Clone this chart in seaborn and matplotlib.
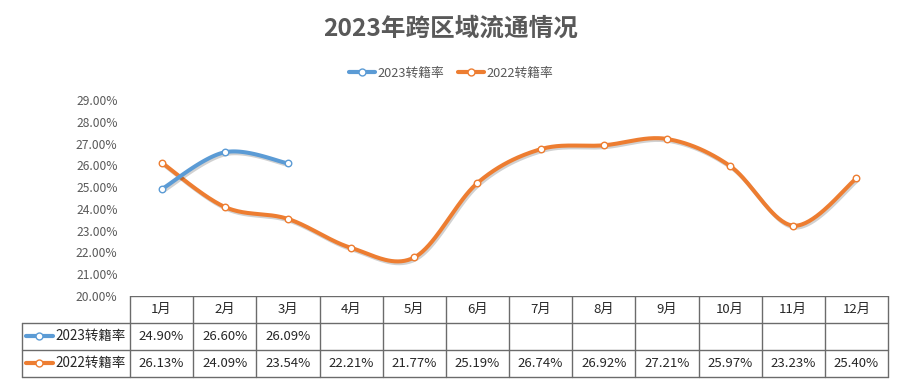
import numpy as np
import pandas as pd
import matplotlib
matplotlib.use("Agg")
import matplotlib.pyplot as plt
import matplotlib.patheffects as pe
from matplotlib.lines import Line2D
import seaborn as sns

months = ["1月", "2月", "3月", "4月", "5月", "6月", "7月", "8月", "9月", "10月", "11月", "12月"]
rate_2023 = [24.90, 26.60, 26.09]
rate_2022 = [26.13, 24.09, 23.54, 22.21, 21.77, 25.19, 26.74, 26.92, 27.21, 25.97, 23.23, 25.40]
series_names = ["2023转籍率", "2022转籍率"]
title = "2023年跨区域流通情况"
yticks = [20, 21, 22, 23, 24, 25, 26, 27, 28, 29]

BLUE = "#5B9BD5"
ORANGE = "#ED7D31"
GRAY = "#595959"

sns.set_theme(style="white")
plt.rcParams["font.family"] = ["Noto Sans CJK SC", "DejaVu Sans"]

W, H = 902, 385
fig = plt.figure(figsize=(W / 100, H / 100), dpi=100)

def px_axes(x0, y0, x1, y1):
    return fig.add_axes([x0 / W, 1 - y1 / H, (x1 - x0) / W, (y1 - y0) / H])

# plot area
ax = px_axes(130, 100, 888, 296)

def smooth(xs, ys, n=40):
    xs = np.asarray(xs, float); ys = np.asarray(ys, float)
    P = np.column_stack([xs, ys])
    out = []
    for i in range(len(P) - 1):
        p0 = P[i - 1] if i > 0 else P[i]
        p1 = P[i]; p2 = P[i + 1]
        p3 = P[i + 2] if i + 2 < len(P) else P[i + 1]
        c1 = p1 + (p2 - p0) / 6
        c2 = p2 - (p3 - p1) / 6
        t = np.linspace(0, 1, n)[:, None]
        seg = (1 - t) ** 3 * p1 + 3 * (1 - t) ** 2 * t * c1 + 3 * (1 - t) * t ** 2 * c2 + t ** 3 * p2
        out.append(seg if i == 0 else seg[1:])
    return np.vstack(out)

shadow = [pe.SimpleLineShadow(offset=(1.0, -1.3), alpha=0.18, shadow_color="black"), pe.Normal()]

for vals, color, name in [(rate_2022, ORANGE, series_names[1]), (rate_2023, BLUE, series_names[0])]:
    xs = np.arange(len(vals))
    curve = smooth(xs, vals)
    df = pd.DataFrame({"x": curve[:, 0], "y": curve[:, 1]})
    sns.lineplot(data=df, x="x", y="y", ax=ax, color=color, linewidth=2.9, sort=False,
                 estimator=None, path_effects=shadow, legend=False)
    dfp = pd.DataFrame({"x": xs, "y": vals})
    sns.scatterplot(data=dfp, x="x", y="y", ax=ax, s=22, color="white", edgecolor=color,
                    linewidth=1.0, zorder=5, legend=False)

ax.set_xlim(-0.5, 11.5)
ax.set_ylim(20, 29)
ax.set_yticks(yticks)
ax.set_yticklabels([f"{v:.2f}%" for v in yticks], color=GRAY, fontsize=8.7)
ax.tick_params(axis="y", length=0, pad=9)
ax.set_xticks([])
ax.set_xlabel(""); ax.set_ylabel("")
for s in ax.spines.values():
    s.set_visible(False)
ax.patch.set_alpha(0)

fig.text(0.5, 1 - 29 / H, title, ha="center", va="center", fontsize=17.7, fontweight="bold", color=GRAY)

handles = [Line2D([], [], color=BLUE, lw=3, marker="o", markersize=5, markerfacecolor="white",
                  markeredgecolor=BLUE, markeredgewidth=1.0),
           Line2D([], [], color=ORANGE, lw=3, marker="o", markersize=5, markerfacecolor="white",
                  markeredgecolor=ORANGE, markeredgewidth=1.0)]
fig.legend(handles, series_names, loc="center", bbox_to_anchor=(0.5, 1 - 73 / H), ncol=2,
           frameon=False, fontsize=9.2, handlelength=2.0, columnspacing=1.1, handletextpad=0.2,
           labelcolor=GRAY)

# data table
tab = px_axes(0, 296, W, 385)
tab.set_xlim(0, W); tab.set_ylim(385, 296)
tab.axis("off")
LC = "#6b6b6b"
x0, x1 = 130, 888
cw = (x1 - x0) / 12
rows_y = [296, 322.5, 349.5, 377]
lw = 1.0
tab.plot([x0, x1], [296, 296], color=LC, lw=lw)
for y in rows_y[1:]:
    tab.plot([22, x1], [y, y], color=LC, lw=lw)
tab.plot([22, 22], [rows_y[1], rows_y[3]], color=LC, lw=lw)
for i in range(13):
    xx = x0 + i * cw
    tab.plot([xx, xx], [296, 377], color=LC, lw=lw)

TC = "#262626"
for i, m in enumerate(months):
    tab.text(x0 + (i + 0.5) * cw, (rows_y[0] + rows_y[1]) / 2, m, ha="center", va="center",
             fontsize=9.5, color=TC)
for r, (vals, color, name) in enumerate([(rate_2023, BLUE, series_names[0]),
                                          (rate_2022, ORANGE, series_names[1])]):
    yc = (rows_y[r + 1] + rows_y[r + 2]) / 2
    tab.plot([26, 53], [yc, yc], color=color, lw=3, solid_capstyle="round")
    tab.plot([39], [yc], marker="o", markersize=5, markerfacecolor="white", markeredgecolor=color,
             markeredgewidth=1.0)
    tab.text(55, yc, name, ha="left", va="center", fontsize=9.7, color=TC)
    for i, v in enumerate(vals):
        tab.text(x0 + (i + 0.5) * cw, yc, f"{v:.2f}%", ha="center", va="center", fontsize=9.5, color=TC)

fig.savefig("out.png", dpi=100)
